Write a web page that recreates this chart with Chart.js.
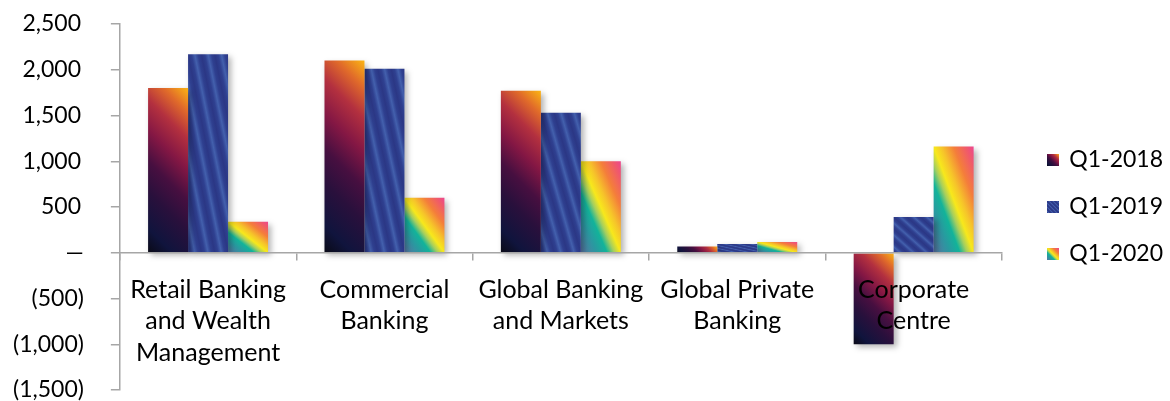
<!DOCTYPE html>
<html>
<head>
<meta charset="utf-8">
<script src="https://cdn.jsdelivr.net/npm/chart.js@4/dist/chart.umd.min.js"></script>
<style>
  html, body { margin: 0; padding: 0; background: #fff; }
  #wrap { width: 1170px; height: 401px; position: relative; }
</style>
</head>
<body>
<div id="wrap"><canvas id="chart"></canvas></div>
<script>
// chart data
const categories = [
  ['Retail Banking', 'and Wealth', 'Management'],
  ['Commercial', 'Banking'],
  ['Global Banking', 'and Markets'],
  ['Global Private', 'Banking'],
  ['Corporate', 'Centre']
];
const seriesNames = ['Q1-2018', 'Q1-2019', 'Q1-2020'];
const q1_2018 = [1800, 2100, 1770, 68, -1000];
const q1_2019 = [2170, 2010, 1530, 96, 390];
const q1_2020 = [340, 600, 1000, 118, 1160];
const yMin = -1500;
const yMax = 2500;
const yStep = 500;

const CAT_PCT = 0.68;
const FONT = 'Lato, "Open Sans", sans-serif';
const AXIS_GREY = '#a6a6a6';
const LEGEND_SHIFT = 22;

// gradient fills, one style per series
function fill2018(ctx, l, t, r, b) {
  const w = r - l, h = b - t, d = (w + h) / 2;
  const g = ctx.createLinearGradient(l, b, l + d, b - d);
  g.addColorStop(0, '#0a0a16');
  g.addColorStop(0.12, '#10143d');
  g.addColorStop(0.3, '#29103c');
  g.addColorStop(0.45, '#470f40');
  g.addColorStop(0.6, '#841744');
  g.addColorStop(0.75, '#b3303f');
  g.addColorStop(0.88, '#e06a2a');
  g.addColorStop(1, '#fbb514');
  return g;
}

// stretched diagonal: isolines run along the bar's top-left/bottom-right diagonal
function stretched(ctx, l, t, r, b) {
  const w = r - l, h = b - t;
  const k = 2 * h * w / (h * h + w * w);
  return ctx.createLinearGradient(l, b, l + k * h, b - k * w);
}

function fill2019(ctx, l, t, r, b) {
  const g = stretched(ctx, l, t, r, b);
  const periods = 6;
  for (let i = 0; i < periods; i++) {
    const s = i / periods, p = 1 / periods;
    g.addColorStop(s, '#2b3785');
    g.addColorStop(s + p * 0.25, '#2f4090');
    g.addColorStop(s + p * 0.5, '#4360ad');
    g.addColorStop(s + p * 0.75, '#2f4090');
  }
  g.addColorStop(1, '#2b3785');
  return g;
}

function fill2020(ctx, l, t, r, b) {
  const g = stretched(ctx, l, t, r, b);
  g.addColorStop(0, '#5a76a6');
  g.addColorStop(0.2, '#2a98a0');
  g.addColorStop(0.33, '#12b39a');
  g.addColorStop(0.42, '#a6cf5e');
  g.addColorStop(0.5, '#f7e81c');
  g.addColorStop(0.6, '#f6c42a');
  g.addColorStop(0.75, '#f47e3a');
  g.addColorStop(0.9, '#f05a6a');
  g.addColorStop(1, '#ec4690');
  return g;
}

const fills = [fill2018, fill2019, fill2020];
const flatColors = ['#3a1040', '#2e3d90', '#f6d030'];

function barFill(si) {
  return function (c) {
    const chart = c.chart;
    if (!chart.chartArea || c.type !== 'data') return flatColors[si];
    const xs = chart.scales.x, ys = chart.scales.y;
    const catW = xs.width / categories.length;
    const groupW = catW * CAT_PCT;
    const barW = groupW / seriesNames.length;
    const left = xs.getPixelForValue(c.dataIndex) - groupW / 2 + c.datasetIndex * barW;
    const vy = ys.getPixelForValue(c.raw), zy = ys.getPixelForValue(0);
    return fills[si](chart.ctx, left, Math.min(vy, zy), left + barW, Math.max(vy, zy));
  };
}

// small legend swatches
function swatch(si) {
  const cv = document.createElement('canvas');
  cv.width = 12; cv.height = 12;
  const c = cv.getContext('2d');
  c.fillStyle = fills[si](c, 0, 0, 12, 12);
  c.fillRect(0, 0, 12, 12);
  return cv;
}

function fmt(v) {
  return Math.abs(v).toLocaleString('en-US');
}

const barShadow = {
  id: 'barShadow',
  beforeDatasetsDraw(chart) {
    const ctx = chart.ctx;
    ctx.save();
    ctx.shadowColor = 'rgba(0,0,0,0.3)';
    ctx.shadowBlur = 6;
    ctx.shadowOffsetX = 3;
    ctx.shadowOffsetY = 3;
  },
  afterDatasetsDraw(chart) {
    chart.ctx.restore();
  }
};

// push the legend a bit further from the plot
const legendNudge = {
  id: 'legendNudge',
  afterLayout(chart) {
    if (chart.legend) {
      chart.legend.left += LEGEND_SHIFT;
      chart.legend.right += LEGEND_SHIFT;
    }
  }
};

function noPad(scale) {
  scale.paddingTop = 0;
  scale.paddingBottom = 0;
  scale.paddingLeft = 0;
  scale.paddingRight = 0;
}

const seriesData = [q1_2018, q1_2019, q1_2020];

new Chart(document.getElementById('chart'), {
  type: 'bar',
  data: {
    labels: categories,
    datasets: seriesNames.map((name, i) => ({
      label: name,
      data: seriesData[i],
      backgroundColor: barFill(i),
      borderWidth: 0,
      categoryPercentage: CAT_PCT,
      barPercentage: 1.0
    }))
  },
  options: {
    responsive: true,
    maintainAspectRatio: false,
    animation: false,
    layout: { padding: { top: 24, left: -14, bottom: 11, right: 19 } },
    plugins: {
      tooltip: { enabled: false },
      legend: {
        position: 'right',
        labels: {
          usePointStyle: true,
          pointStyleWidth: 10,
          padding: 24,
          color: '#000',
          font: { family: FONT, size: 23 },
          generateLabels: () => seriesNames.map((name, i) => ({
            text: name,
            pointStyle: swatch(i),
            fillStyle: flatColors[i],
            strokeStyle: 'transparent',
            lineWidth: 0,
            hidden: false,
            datasetIndex: i
          }))
        }
      }
    },
    scales: {
      x: {
        position: { y: 0 },
        afterFit: noPad,
        border: { display: true, color: AXIS_GREY, width: 1.5, z: 1 },
        grid: { display: true, drawOnChartArea: false, drawTicks: true, tickLength: 7, color: AXIS_GREY, lineWidth: 1.5, offset: true },
        ticks: {
          z: 1,
          color: '#000',
          padding: 14,
          maxRotation: 0,
          autoSkip: false,
          font: { family: FONT, size: 25, lineHeight: 1.26 }
        }
      },
      y: {
        min: yMin,
        max: yMax,
        afterFit: noPad,
        border: { display: true, color: AXIS_GREY, width: 1.5 },
        grid: { display: true, drawOnChartArea: false, drawTicks: true, tickLength: 9, color: AXIS_GREY, lineWidth: 1.5 },
        ticks: {
          stepSize: yStep,
          color: '#000',
          padding: 27,
          font: { family: FONT, size: 23 },
          callback: (v) => v === 0 ? '\u2014' : (v < 0 ? '(' + fmt(v) + ')' : fmt(v) + '\u2009')
        }
      }
    }
  },
  plugins: [barShadow, legendNudge]
});
</script>
</body>
</html>
